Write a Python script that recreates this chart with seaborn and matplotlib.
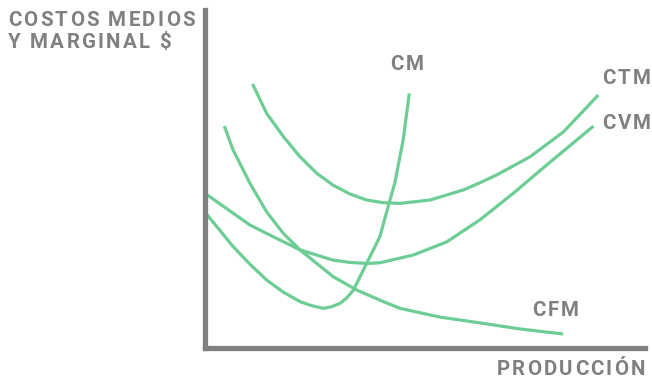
import numpy as np
import pandas as pd
import matplotlib
matplotlib.use("Agg")
import matplotlib.pyplot as plt
import seaborn as sns
from matplotlib.font_manager import FontProperties, findfont
from matplotlib.ft2font import FT2Font
from matplotlib.transforms import IdentityTransform

# ==============================================================================
# データ (producción 0-100, costo 0-100)
# ==============================================================================
cm_x = [0.3, 6.5, 10.3, 14.1, 17.9, 21.7, 24.3, 27.0, 28.9, 30.8, 32.3, 33.8, 36.8, 39.8, 42.1, 43.2, 45.1, 46.5]
cm_y = [39.8, 29.9, 24.7, 20.0, 16.4, 13.6, 12.4, 11.6, 12.1, 13.1, 14.7, 17.0, 24.9, 32.8, 43.7, 48.7, 61.5, 75.3]

ctm_x = [10.9, 14.1, 17.9, 21.7, 25.5, 29.2, 33.0, 36.8, 40.6, 44.4, 51.2, 58.8, 62.5, 66.3, 73.9, 81.5, 89.4]
ctm_y = [78.1, 69.4, 62.5, 56.5, 51.6, 48.1, 45.5, 43.7, 42.9, 42.7, 43.7, 46.7, 48.8, 51.1, 56.5, 63.9, 74.8]

cvm_x = [0.3, 6.5, 10.3, 14.1, 21.7, 29.2, 33.0, 36.8, 39.8, 47.4, 55.0, 62.5, 70.1, 77.7, 88.3]
cvm_y = [45.5, 39.8, 36.3, 33.8, 28.9, 25.9, 25.2, 24.9, 25.1, 27.4, 31.3, 37.8, 45.7, 54.1, 65.6]

cfm_x = [4.5, 6.5, 10.3, 14.1, 17.9, 21.7, 29.2, 34.6, 40.6, 44.4, 53.5, 62.5, 71.6, 81.4]
cfm_y = [65.6, 58.5, 48.7, 40.2, 33.8, 28.9, 21.0, 17.0, 13.6, 11.6, 9.0, 7.3, 5.5, 4.0]

curve_names = ["CM", "CTM", "CVM", "CFM"]
# etiqueta: x, y (línea base), alineación
label_pos = {"CM": (46.0, 82.1, "center"), "CTM": (90.2, 78.0, "left"),
             "CVM": (90.2, 64.7, "left"), "CFM": (79.6, 9.4, "center")}

y_title = ["COSTOS MEDIOS", "Y MARGINAL $"]
x_title = "PRODUCCIÓN"

# ==============================================================================
# 描画
# ==============================================================================
sns.set_style("white")
plt.rcParams['font.family'] = ['Roboto', 'DejaVu Sans']

GREEN = "#6dcd95"
GRAY = "#808080"
FSIZE = 14.8
TRACK = 2.2  # espaciado entre letras en px

W, H, DPI = 652, 384, 100

fig = plt.figure(figsize=(W / DPI, H / DPI), dpi=DPI)
ax = fig.add_axes([204.5 / W, (H - 347.5) / H, (645 - 204.5) / W, (347.5 - 10) / H])

fprop = FontProperties(family="Roboto", weight="bold", size=FSIZE)
ft = FT2Font(findfont(fprop))
ft.set_size(FSIZE, DPI)


def advances(s):
    out = []
    for ch in s:
        g = ft.load_char(ord(ch))
        out.append(g.linearHoriAdvance / 65536)
    return out


def spaced_text(x, y, s, ha="left"):
    """x, y en píxeles de pantalla (origen abajo-izquierda)"""
    adv = advances(s)
    total = sum(adv) + TRACK * (len(s) - 1)
    if ha == "center":
        x -= total / 2
    elif ha == "right":
        x -= total
    for ch, a in zip(s, adv):
        fig.text(x, y, ch, transform=IdentityTransform(), ha="left", va="baseline",
                 fontproperties=fprop, color=GRAY)
        x += a + TRACK


frames = []
for name, xs, ys in zip(curve_names, [cm_x, ctm_x, cvm_x, cfm_x], [cm_y, ctm_y, cvm_y, cfm_y]):
    frames.append(pd.DataFrame({"q": xs, "c": ys, "curva": name}))
df = pd.concat(frames, ignore_index=True)

for name in curve_names:
    sub = df[df["curva"] == name]
    sns.lineplot(data=sub, x="q", y="c", sort=False, color=GREEN, linewidth=2.3,
                 solid_joinstyle="round", solid_capstyle="butt", ax=ax, legend=False)

ax.set_xlim(0, 100)
ax.set_ylim(0, 100)
ax.set_xticks([])
ax.set_yticks([])
ax.set_xlabel("")
ax.set_ylabel("")
for side in ["top", "right"]:
    ax.spines[side].set_visible(False)
for side in ["left", "bottom"]:
    ax.spines[side].set_color(GRAY)
    ax.spines[side].set_linewidth(3.8)

for name in curve_names:
    lx, ly, ha = label_pos[name]
    px, py = ax.transData.transform((lx, ly))
    spaced_text(px, py, name, ha)

spaced_text(8, H - 26, y_title[0])
spaced_text(8, H - 48, y_title[1])
spaced_text(645, H - 375, x_title, "right")

fig.savefig("out.png", dpi=DPI)
